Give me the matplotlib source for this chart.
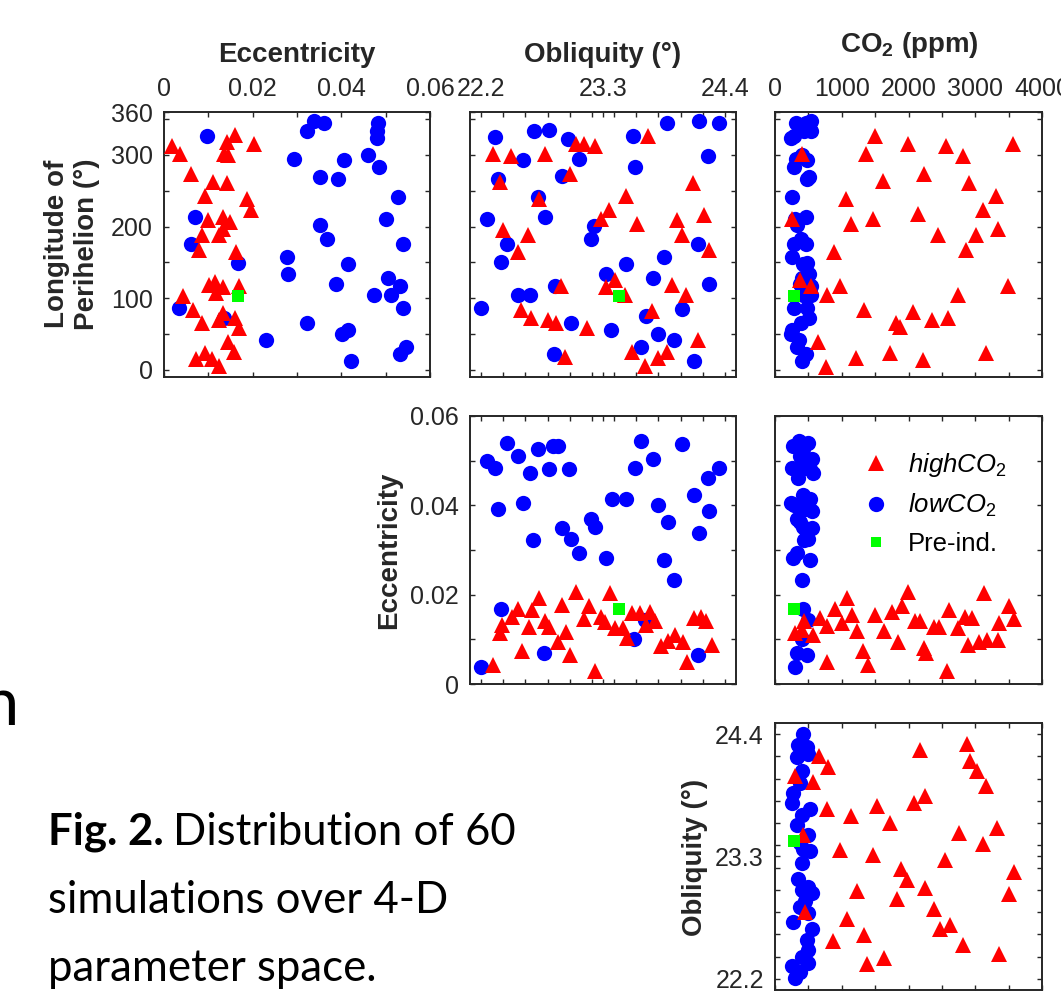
import numpy as np
import matplotlib
matplotlib.use("Agg")
import matplotlib.pyplot as plt
from matplotlib.lines import Line2D

plt.rcParams['font.family'] = ['Liberation Sans', 'DejaVu Sans']
plt.rcParams['mathtext.fontset'] = 'custom'
plt.rcParams['mathtext.rm'] = 'Liberation Sans'
plt.rcParams['mathtext.it'] = 'Liberation Sans:italic'
plt.rcParams['mathtext.bf'] = 'Liberation Sans:bold'

# ---------------- data ----------------
# Panel 1: eccentricity vs longitude of perihelion
high_p1_ecc = [0.0019,0.0036,0.0061,0.0092,0.0110,0.0142,0.0161,0.0142,0.0136,0.0145,
               0.0202,0.0187,0.0196,0.0100,0.0133,0.0149,0.0085,0.0123,0.0134,0.0079,
               0.0162,0.0115,0.0102,0.0133,0.0170,0.0118,0.0043,0.0066,0.0134,0.0085,
               0.0124,0.0160,0.0170,0.0145,0.0157,0.0073,0.0092,0.0109,0.0123]
high_p1_lon = [313,302,274,243,262,261,328,318,302,300,316,239,223,209,214,206,188,188,196,168,
               165,123,118,116,117,107,103,83,79,66,70,72,59,39,25,15,24,15,6]
low_p1_ecc = [0.0098,0.0322,0.0339,0.0361,0.0483,0.0481,0.0481,0.0293,0.0405,0.0461,
              0.0485,0.0352,0.0392,0.0527,0.0070,0.0352,0.0500,0.0367,0.0062,0.0540,
              0.0277,0.0166,0.0414,0.0280,0.0505,0.0388,0.0532,0.0473,0.0511,0.0034,
              0.0540,0.0136,0.0323,0.0402,0.0414,0.0231,0.0422,0.0532,0.0545]
low_p1_lon = [327,333,348,344,344,334,324,294,293,300,283,269,267,241,213,202,210,182,175,176,
              158,149,148,134,128,120,117,104,104,86,86,72,65,50,55,41,13,22,32]

# Panel 2: obliquity vs longitude of perihelion
high_p2_obl = [22.31,22.47,22.78,23.06,23.13,23.23,23.71,22.37,23.00,22.72,
               23.51,23.35,23.28,23.61,24.11,23.97,24.21,24.01,24.26,22.40,
               22.62,22.53,22.92,23.41,23.33,23.50,23.92,24.05,22.56,22.65,
               22.80,22.88,23.16,23.74,23.56,23.68,23.80,23.88,24.16,22.96]
high_p2_lon = [301,298,302,316,316,313,327,262,274,239,243,223,211,204,261,209,216,188,168,195,
               188,165,117,126,116,104,118,105,84,73,69,66,59,82,25,5,16,25,42,18]
low_p2_obl = [22.33,22.68,22.81,22.98,23.57,23.88,24.17,24.35,22.58,23.08,
              24.25,23.59,22.35,22.93,22.71,22.25,22.78,23.22,23.19,22.43,
              22.38,24.16,23.85,23.51,23.33,23.75,24.26,22.87,22.53,22.64,
              22.20,23.01,23.37,23.69,24.01,23.80,23.94,23.64,22.86,24.12]
low_p2_lon = [325,334,335,322,327,344,348,344,293,294,299,283,267,270,241,210,213,201,182,175,
              150,175,158,148,134,128,120,117,104,104,87,65,55,75,85,50,42,32,22,13]

# Panel 3: CO2 vs longitude of perihelion
high_p3_co2 = [1502,1987,2563,3564,1362,410,2813,2238,1622,2913,3314,1061,3114,260,1136,1462,2138,2438,3014,3339,
               886,2863,370,536,971,786,3489,2738,1327,2062,1812,1877,2353,2598,646,1211,1722,2213,3164,761]
high_p3_lon = [327,315,313,316,302,301,298,274,263,261,243,238,223,210,204,211,217,188,188,196,
               165,168,126,117,117,104,117,105,83,81,66,60,70,73,39,16,24,14,24,4]
low_p3_co2 = [535,310,460,435,535,285,235,400,310,485,285,510,480,260,460,300,335,385,285,460,
              260,485,420,510,410,380,535,535,420,285,485,510,385,260,235,360,335,460,410]
low_p3_lon = [348,344,344,334,333,327,324,300,294,293,283,269,267,241,213,210,202,182,176,175,
              158,149,148,134,128,120,117,104,104,86,86,72,65,55,50,41,32,22,13]

# Panel 4: obliquity vs eccentricity
high_p4_obl = [22.37,22.39,22.48,22.53,22.57,22.63,22.66,22.72,22.78,22.81,
               22.89,22.93,22.97,23.00,23.06,23.13,23.17,23.23,23.28,23.32,
               23.36,23.41,23.48,23.52,23.56,23.63,23.72,23.69,23.77,23.82,
               23.89,23.95,24.02,24.06,24.12,24.18,24.23,24.28,22.31]
high_p4_ecc = [0.0114,0.0132,0.0151,0.0168,0.0075,0.0127,0.0166,0.0193,0.0142,0.0127,
               0.0095,0.0177,0.0117,0.0065,0.0207,0.0145,0.0174,0.0028,0.0151,0.0138,
               0.0204,0.0125,0.0125,0.0103,0.0160,0.0160,0.0162,0.0132,0.0142,0.0084,
               0.0097,0.0110,0.0095,0.0050,0.0147,0.0151,0.0142,0.0088,0.0043]
low_p4_obl = [22.25,22.33,22.43,22.53,22.64,22.71,22.81,22.85,22.89,22.99,
              22.35,22.58,22.67,22.93,23.01,23.08,23.19,23.23,23.33,23.38,
              23.51,23.59,23.64,23.75,23.80,23.89,23.85,23.94,24.01,24.12,
              24.25,24.26,24.17,24.35,22.38,22.20,22.77,23.58,23.68,24.16]
low_p4_ecc = [0.0500,0.0483,0.0539,0.0510,0.0473,0.0527,0.0482,0.0532,0.0532,0.0482,
              0.0392,0.0405,0.0323,0.0350,0.0324,0.0294,0.0370,0.0352,0.0283,0.0414,
              0.0414,0.0484,0.0544,0.0504,0.0400,0.0363,0.0277,0.0233,0.0538,0.0423,
              0.0461,0.0388,0.0339,0.0483,0.0167,0.0037,0.0069,0.0100,0.0144,0.0065]

# Panel 5: CO2 vs eccentricity
high_p5_co2 = [440,300,400,575,675,775,900,1075,1000,1150,1225,1325,1390,1500,1640,1750,1840,1900,1990,2090,
               2175,2225,2260,2375,2460,2575,2610,2740,2840,2950,2890,3050,3175,3125,3340,3360,3500,3575,775]
high_p5_ecc = [0.0140,0.0114,0.0121,0.0110,0.0147,0.0129,0.0168,0.0193,0.0136,0.0155,
               0.0118,0.0073,0.0043,0.0155,0.0118,0.0162,0.0095,0.0174,0.0207,0.0140,
               0.0140,0.0080,0.0069,0.0127,0.0127,0.0028,0.0166,0.0125,0.0151,0.0147,
               0.0088,0.0093,0.0099,0.0204,0.0099,0.0136,0.0175,0.0145,0.0050]
low_p5_co2 = [360,500,450,275,300,425,375,550,480,250,400,430,300,520,575,350,425,525,460,240,
              290,450,550,325,380,425,550,480,500,430,325,275,525,400,425,500,400,325,475,300]
low_p5_ecc = [0.0544,0.0539,0.0538,0.0532,0.0532,0.0527,0.0510,0.0504,0.0500,0.0484,
              0.0483,0.0483,0.0482,0.0482,0.0473,0.0461,0.0423,0.0414,0.0414,0.0405,
              0.0400,0.0392,0.0388,0.0370,0.0363,0.0352,0.0350,0.0339,0.0324,0.0323,
              0.0294,0.0283,0.0277,0.0233,0.0167,0.0144,0.0100,0.0069,0.0065,0.0037]

# Panel 6: CO2 vs obliquity
high_p6_co2 = [665,790,300,565,775,1135,1525,1725,2085,2240,2175,2875,2925,3025,3165,2750,3325,3115,975,1475,
               2550,1890,1975,2250,1225,1835,3585,3500,2375,2465,2625,1075,875,1335,2815,3350,1375,1635,425,450]
high_p6_obl = [24.20,24.10,24.02,23.97,23.73,23.66,23.75,23.60,23.78,23.84,
               24.26,24.31,24.16,24.07,23.93,23.51,23.56,23.41,23.36,23.31,
               23.27,23.19,23.09,23.02,22.99,22.92,23.16,22.96,22.83,22.65,
               22.68,22.74,22.54,22.59,22.50,22.42,22.33,22.39,23.49,22.80]
low_p6_co2 = [425,350,475,325,500,400,375,275,250,525,400,325,500,375,425,525,400,350,500,400,
              550,450,375,500,275,550,475,500,400,250,500,300,375]
low_p6_obl = [24.40,24.30,24.28,24.19,24.22,24.07,23.96,23.87,23.78,23.73,
              23.67,23.58,23.49,23.42,23.37,23.35,23.24,23.10,23.03,23.00,
              22.97,22.90,22.85,22.79,22.71,22.65,22.55,22.46,22.40,22.32,
              22.34,22.21,22.26]

# Pre-industrial reference
pi_ecc, pi_obl, pi_co2, pi_lon = 0.0167, 23.44, 280, 103

# tick labels
ecc_ticks = [0, 0.02, 0.04, 0.06]
ecc_ticklabels = ['0', '0.02', '0.04', '0.06']
obl_ticks = [22.2, 23.3, 24.4]
obl_ticklabels = ['22.2', '23.3', '24.4']
co2_ticks = [0, 1000, 2000, 3000, 4000]
co2_ticklabels = ['0', '1000', '2000', '3000', '4000']
lon_ticks = [0, 100, 200, 300, 360]
lon_ticklabels = ['0', '100', '200', '300', '360']

legend_labels = [r'$\mathit{highCO}_{\mathregular{2}}$', r'$\mathit{lowCO}_{\mathregular{2}}$', 'Pre-ind.']

# ---------------- style ----------------
RED, BLUE, GREEN = '#ff0000', '#0000ff', '#00ff00'
AXC = '#262626'
TXT = '#262626'
W, H = 1061, 991

fig = plt.figure(figsize=(W / 100, H / 100), dpi=100)

cols = [(164, 430), (470, 736), (775, 1042)]
rows = [(112, 377), (416, 684), (723, 990)]


def make_ax(c, r):
    x0, x1 = cols[c]
    y0, y1 = rows[r]
    return fig.add_axes([x0 / W, 1 - y1 / H, (x1 - x0) / W, (y1 - y0) / H])


def style(ax):
    for s in ax.spines.values():
        s.set_color(AXC)
        s.set_linewidth(1.4)
    ax.tick_params(which='both', direction='in', top=True, bottom=True, left=True, right=True,
                   length=3.5, width=1.0, color=AXC, labelsize=18, labelcolor=TXT, pad=8,
                   labeltop=False, labelbottom=False, labelleft=False, labelright=False)


MS_C, MS_T, MS_S = 11, 11.5, 8.5


def draw(ax, lx, ly, hx, hy, px, py):
    ax.plot(lx, ly, 'o', color=BLUE, ms=MS_C, mew=0, ls='none', zorder=2)
    ax.plot(hx, hy, '^', color=RED, ms=MS_T, mew=0, ls='none', zorder=3)
    ax.plot([px], [py], 's', color=GREEN, ms=MS_S, mew=0, ls='none', zorder=4)


def x_ecc(ax):
    ax.set_xlim(0, 0.06)
    ax.set_xticks(ecc_ticks)
    ax.set_xticks(np.arange(0.01, 0.06, 0.02), minor=True)
    ax.set_xticklabels(ecc_ticklabels)


def y_ecc(ax):
    ax.set_ylim(0, 0.06)
    ax.set_yticks(ecc_ticks)
    ax.set_yticks(np.arange(0.01, 0.06, 0.02), minor=True)
    ax.set_yticklabels(ecc_ticklabels)


def x_obl(ax):
    ax.set_xlim(22.1, 24.5)
    ax.set_xticks(obl_ticks)
    ax.set_xticks(np.arange(22.2, 24.41, 0.2), minor=True)
    ax.set_xticklabels(obl_ticklabels)


def y_obl(ax):
    ax.set_ylim(22.1, 24.5)
    ax.set_yticks(obl_ticks)
    ax.set_yticks(np.arange(22.2, 24.41, 0.2), minor=True)
    ax.set_yticklabels(obl_ticklabels)


def x_co2(ax):
    ax.set_xlim(0, 4000)
    ax.set_xticks(co2_ticks)
    ax.set_xticks(np.arange(500, 4000, 1000), minor=True)
    ax.set_xticklabels(co2_ticklabels)


def y_lon(ax):
    ax.set_ylim(-10, 360)
    ax.set_yticks(lon_ticks)
    ax.set_yticks(np.arange(50, 360, 100), minor=True)
    ax.set_yticklabels(lon_ticklabels)


# Row 1
ax1 = make_ax(0, 0); style(ax1)
draw(ax1, low_p1_ecc, low_p1_lon, high_p1_ecc, high_p1_lon, pi_ecc, pi_lon)
x_ecc(ax1); y_lon(ax1)
ax1.tick_params(labeltop=True, labelleft=True)

ax2 = make_ax(1, 0); style(ax2)
draw(ax2, low_p2_obl, low_p2_lon, high_p2_obl, high_p2_lon, pi_obl, pi_lon)
x_obl(ax2); y_lon(ax2)
ax2.tick_params(labeltop=True)

ax3 = make_ax(2, 0); style(ax3)
draw(ax3, low_p3_co2, low_p3_lon, high_p3_co2, high_p3_lon, pi_co2, pi_lon)
x_co2(ax3); y_lon(ax3)
ax3.tick_params(labeltop=True)

# Row 2
ax4 = make_ax(1, 1); style(ax4)
draw(ax4, low_p4_obl, low_p4_ecc, high_p4_obl, high_p4_ecc, pi_obl, pi_ecc)
x_obl(ax4); y_ecc(ax4)
ax4.tick_params(labelleft=True)

ax5 = make_ax(2, 1); style(ax5)
draw(ax5, low_p5_co2, low_p5_ecc, high_p5_co2, high_p5_ecc, pi_co2, pi_ecc)
x_co2(ax5); y_ecc(ax5)

# Row 3
ax6 = make_ax(2, 2); style(ax6)
draw(ax6, low_p6_co2, low_p6_obl, high_p6_co2, high_p6_obl, pi_co2, pi_obl)
x_co2(ax6); y_obl(ax6)
ax6.tick_params(labelleft=True)

# Legend
handles = [Line2D([], [], marker='^', color=RED, ms=MS_T, mew=0, ls='none'),
           Line2D([], [], marker='o', color=BLUE, ms=MS_C, mew=0, ls='none'),
           Line2D([], [], marker='s', color=GREEN, ms=MS_S * 0.85, mew=0, ls='none')]
ax5.legend(handles, legend_labels, loc='upper left', bbox_to_anchor=(0.331, 0.868),
           frameon=False, fontsize=18.5, handlelength=1.0, handletextpad=0.72,
           borderpad=0, borderaxespad=0, labelspacing=0.5, labelcolor='#000000')

# Axis titles
LBL = dict(fontsize=20, fontweight='bold', color=TXT)
fig.text(297 / W, 1 - 62 / H, 'Eccentricity', ha='center', va='baseline', **LBL)
fig.text(603 / W, 1 - 62 / H, 'Obliquity (°)', ha='center', va='baseline', **LBL)
fig.text(909 / W, 1 - 52 / H, r'$\mathbf{CO}_{\mathbf{2}}$ (ppm)', ha='center', va='baseline', **LBL)
fig.text(72 / W, 1 - 244 / H, 'Longitude of\nPerihelion (°)', ha='center', va='center',
         rotation=90, linespacing=1.15, **LBL)
fig.text(389 / W, 1 - 550 / H, 'Eccentricity', ha='center', va='center', rotation=90, **LBL)
fig.text(695 / W, 1 - 857 / H, 'Obliquity (°)', ha='center', va='center', rotation=90, **LBL)

# Caption (from surrounding slide)
CAP = dict(fontsize=31.5, color='#000000', family='Lato')
t1 = fig.text(48 / W, 1 - 845 / H, 'Fig. 2.', ha='left', va='baseline', fontweight='bold', **CAP)
fig.canvas.draw()
bb = t1.get_window_extent()
fig.text((bb.x1 + 9) / W, 1 - 845 / H, 'Distribution of 60', ha='left', va='baseline', **CAP)
fig.text(48 / W, 1 - 913 / H, 'simulations over 4-D', ha='left', va='baseline', **CAP)
fig.text(48 / W, 1 - 981 / H, 'parameter space.', ha='left', va='baseline', **CAP)
fig.text(19 / W, 1 - 725 / H, 'n', ha='right', va='baseline', fontsize=48, color='#000000', family='Lato')

fig.savefig('out.png', dpi=100)
